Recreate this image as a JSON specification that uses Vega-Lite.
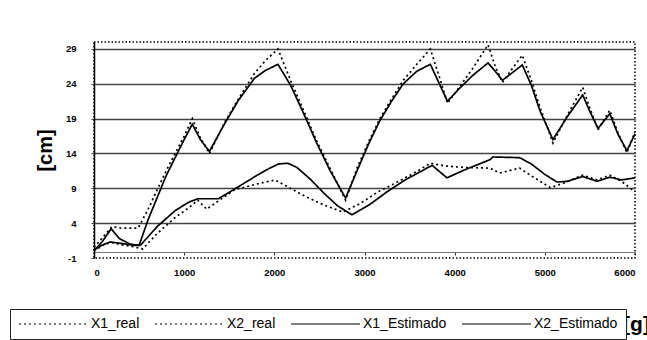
{
  "$schema": "https://vega.github.io/schema/vega-lite/v6.json",
  "width": 541,
  "height": 216,
  "autosize": {"type": "none"},
  "padding": {"left": 94, "top": 42, "right": 12, "bottom": 82},
  "background": "white",
  "config": {
    "view": {"stroke": "black", "strokeDash": [1.5, 2], "strokeWidth": 1.5},
    "font": "Liberation Sans"
  },
  "data": {
    "values": [
      {"s": "X1_real", "x": 0, "y": 0.5}, {"s": "X1_real", "x": 100, "y": 2.0}, {"s": "X1_real", "x": 200, "y": 3.5}, {"s": "X1_real", "x": 300, "y": 3.3}, {"s": "X1_real", "x": 490, "y": 3.3}, {"s": "X1_real", "x": 600, "y": 6.0}, {"s": "X1_real", "x": 800, "y": 11.5}, {"s": "X1_real", "x": 1000, "y": 16.5}, {"s": "X1_real", "x": 1090, "y": 19.0}, {"s": "X1_real", "x": 1180, "y": 16.2}, {"s": "X1_real", "x": 1280, "y": 14.0}, {"s": "X1_real", "x": 1450, "y": 18.5}, {"s": "X1_real", "x": 1600, "y": 21.8}, {"s": "X1_real", "x": 1780, "y": 25.5}, {"s": "X1_real", "x": 1900, "y": 27.3}, {"s": "X1_real", "x": 2040, "y": 29.0}, {"s": "X1_real", "x": 2180, "y": 24.5}, {"s": "X1_real", "x": 2330, "y": 20.0}, {"s": "X1_real", "x": 2470, "y": 15.8}, {"s": "X1_real", "x": 2620, "y": 11.8}, {"s": "X1_real", "x": 2790, "y": 7.3}, {"s": "X1_real", "x": 2920, "y": 12.0}, {"s": "X1_real", "x": 3050, "y": 15.8}, {"s": "X1_real", "x": 3170, "y": 19.0}, {"s": "X1_real", "x": 3300, "y": 21.8}, {"s": "X1_real", "x": 3430, "y": 24.5}, {"s": "X1_real", "x": 3580, "y": 26.8}, {"s": "X1_real", "x": 3730, "y": 29.0}, {"s": "X1_real", "x": 3830, "y": 25.0}, {"s": "X1_real", "x": 3920, "y": 21.2}, {"s": "X1_real", "x": 4050, "y": 23.5}, {"s": "X1_real", "x": 4200, "y": 26.2}, {"s": "X1_real", "x": 4370, "y": 29.6}, {"s": "X1_real", "x": 4450, "y": 26.5}, {"s": "X1_real", "x": 4530, "y": 24.2}, {"s": "X1_real", "x": 4630, "y": 26.0}, {"s": "X1_real", "x": 4750, "y": 28.1}, {"s": "X1_real", "x": 4850, "y": 24.5}, {"s": "X1_real", "x": 4950, "y": 20.5}, {"s": "X1_real", "x": 5090, "y": 15.5}, {"s": "X1_real", "x": 5250, "y": 19.5}, {"s": "X1_real", "x": 5420, "y": 23.5}, {"s": "X1_real", "x": 5500, "y": 20.5}, {"s": "X1_real", "x": 5590, "y": 17.4}, {"s": "X1_real", "x": 5720, "y": 20.2}, {"s": "X1_real", "x": 5810, "y": 17.0}, {"s": "X1_real", "x": 5910, "y": 14.1}, {"s": "X1_real", "x": 6000, "y": 17.1},

      {"s": "X2_real", "x": 0, "y": 0.0}, {"s": "X2_real", "x": 120, "y": 1.0}, {"s": "X2_real", "x": 200, "y": 1.2}, {"s": "X2_real", "x": 300, "y": 0.9}, {"s": "X2_real", "x": 450, "y": 0.6}, {"s": "X2_real", "x": 540, "y": 0.3}, {"s": "X2_real", "x": 700, "y": 2.5}, {"s": "X2_real", "x": 900, "y": 4.8}, {"s": "X2_real", "x": 1050, "y": 6.2}, {"s": "X2_real", "x": 1150, "y": 7.3}, {"s": "X2_real", "x": 1250, "y": 6.0}, {"s": "X2_real", "x": 1380, "y": 7.2}, {"s": "X2_real", "x": 1560, "y": 8.8}, {"s": "X2_real", "x": 1800, "y": 9.6}, {"s": "X2_real", "x": 2007, "y": 10.2}, {"s": "X2_real", "x": 2150, "y": 9.2}, {"s": "X2_real", "x": 2350, "y": 7.8}, {"s": "X2_real", "x": 2550, "y": 6.6}, {"s": "X2_real", "x": 2760, "y": 5.6}, {"s": "X2_real", "x": 2950, "y": 6.8}, {"s": "X2_real", "x": 3150, "y": 8.5}, {"s": "X2_real", "x": 3350, "y": 9.8}, {"s": "X2_real", "x": 3550, "y": 11.2}, {"s": "X2_real", "x": 3730, "y": 12.6}, {"s": "X2_real", "x": 3900, "y": 12.2}, {"s": "X2_real", "x": 4100, "y": 12.0}, {"s": "X2_real", "x": 4390, "y": 11.9}, {"s": "X2_real", "x": 4500, "y": 11.2}, {"s": "X2_real", "x": 4720, "y": 11.9}, {"s": "X2_real", "x": 4850, "y": 10.8}, {"s": "X2_real", "x": 5060, "y": 9.1}, {"s": "X2_real", "x": 5200, "y": 9.7}, {"s": "X2_real", "x": 5420, "y": 10.9}, {"s": "X2_real", "x": 5580, "y": 10.2}, {"s": "X2_real", "x": 5720, "y": 10.9}, {"s": "X2_real", "x": 5850, "y": 10.0}, {"s": "X2_real", "x": 6000, "y": 8.5},

      {"s": "X1_Estimado", "x": 0, "y": 0.0}, {"s": "X1_Estimado", "x": 100, "y": 1.5}, {"s": "X1_Estimado", "x": 190, "y": 3.2}, {"s": "X1_Estimado", "x": 280, "y": 1.8}, {"s": "X1_Estimado", "x": 400, "y": 1.0}, {"s": "X1_Estimado", "x": 500, "y": 0.8}, {"s": "X1_Estimado", "x": 600, "y": 4.5}, {"s": "X1_Estimado", "x": 800, "y": 10.8}, {"s": "X1_Estimado", "x": 1000, "y": 16.0}, {"s": "X1_Estimado", "x": 1090, "y": 18.2}, {"s": "X1_Estimado", "x": 1180, "y": 16.0}, {"s": "X1_Estimado", "x": 1280, "y": 14.3}, {"s": "X1_Estimado", "x": 1450, "y": 18.3}, {"s": "X1_Estimado", "x": 1600, "y": 21.6}, {"s": "X1_Estimado", "x": 1780, "y": 24.8}, {"s": "X1_Estimado", "x": 1900, "y": 25.9}, {"s": "X1_Estimado", "x": 2040, "y": 26.8}, {"s": "X1_Estimado", "x": 2180, "y": 23.8}, {"s": "X1_Estimado", "x": 2330, "y": 19.6}, {"s": "X1_Estimado", "x": 2470, "y": 15.5}, {"s": "X1_Estimado", "x": 2620, "y": 11.5}, {"s": "X1_Estimado", "x": 2790, "y": 7.6}, {"s": "X1_Estimado", "x": 2920, "y": 11.6}, {"s": "X1_Estimado", "x": 3050, "y": 15.5}, {"s": "X1_Estimado", "x": 3170, "y": 18.7}, {"s": "X1_Estimado", "x": 3300, "y": 21.5}, {"s": "X1_Estimado", "x": 3430, "y": 24.0}, {"s": "X1_Estimado", "x": 3580, "y": 25.8}, {"s": "X1_Estimado", "x": 3730, "y": 26.8}, {"s": "X1_Estimado", "x": 3830, "y": 24.0}, {"s": "X1_Estimado", "x": 3920, "y": 21.5}, {"s": "X1_Estimado", "x": 4050, "y": 23.3}, {"s": "X1_Estimado", "x": 4200, "y": 25.2}, {"s": "X1_Estimado", "x": 4370, "y": 27.0}, {"s": "X1_Estimado", "x": 4450, "y": 25.8}, {"s": "X1_Estimado", "x": 4530, "y": 24.5}, {"s": "X1_Estimado", "x": 4630, "y": 25.5}, {"s": "X1_Estimado", "x": 4750, "y": 26.7}, {"s": "X1_Estimado", "x": 4850, "y": 23.8}, {"s": "X1_Estimado", "x": 4950, "y": 20.0}, {"s": "X1_Estimado", "x": 5090, "y": 16.0}, {"s": "X1_Estimado", "x": 5250, "y": 19.3}, {"s": "X1_Estimado", "x": 5420, "y": 22.4}, {"s": "X1_Estimado", "x": 5500, "y": 20.0}, {"s": "X1_Estimado", "x": 5590, "y": 17.6}, {"s": "X1_Estimado", "x": 5720, "y": 19.7}, {"s": "X1_Estimado", "x": 5810, "y": 16.8}, {"s": "X1_Estimado", "x": 5910, "y": 14.4}, {"s": "X1_Estimado", "x": 6000, "y": 16.8},

      {"s": "X2_Estimado", "x": 0, "y": 0.2}, {"s": "X2_Estimado", "x": 100, "y": 0.9}, {"s": "X2_Estimado", "x": 180, "y": 1.3}, {"s": "X2_Estimado", "x": 300, "y": 1.1}, {"s": "X2_Estimado", "x": 450, "y": 0.8}, {"s": "X2_Estimado", "x": 520, "y": 0.9}, {"s": "X2_Estimado", "x": 700, "y": 3.5}, {"s": "X2_Estimado", "x": 900, "y": 5.8}, {"s": "X2_Estimado", "x": 1050, "y": 7.0}, {"s": "X2_Estimado", "x": 1150, "y": 7.5}, {"s": "X2_Estimado", "x": 1380, "y": 7.5}, {"s": "X2_Estimado", "x": 1560, "y": 8.9}, {"s": "X2_Estimado", "x": 1800, "y": 10.8}, {"s": "X2_Estimado", "x": 1950, "y": 11.9}, {"s": "X2_Estimado", "x": 2050, "y": 12.5}, {"s": "X2_Estimado", "x": 2150, "y": 12.6}, {"s": "X2_Estimado", "x": 2250, "y": 12.0}, {"s": "X2_Estimado", "x": 2400, "y": 10.3}, {"s": "X2_Estimado", "x": 2550, "y": 8.3}, {"s": "X2_Estimado", "x": 2700, "y": 6.5}, {"s": "X2_Estimado", "x": 2860, "y": 5.2}, {"s": "X2_Estimado", "x": 3050, "y": 6.6}, {"s": "X2_Estimado", "x": 3250, "y": 8.5}, {"s": "X2_Estimado", "x": 3450, "y": 10.2}, {"s": "X2_Estimado", "x": 3650, "y": 11.6}, {"s": "X2_Estimado", "x": 3750, "y": 12.3}, {"s": "X2_Estimado", "x": 3915, "y": 10.5}, {"s": "X2_Estimado", "x": 4100, "y": 11.6}, {"s": "X2_Estimado", "x": 4390, "y": 13.1}, {"s": "X2_Estimado", "x": 4425, "y": 13.5}, {"s": "X2_Estimado", "x": 4720, "y": 13.4}, {"s": "X2_Estimado", "x": 4850, "y": 12.5}, {"s": "X2_Estimado", "x": 5000, "y": 11.0}, {"s": "X2_Estimado", "x": 5135, "y": 9.9}, {"s": "X2_Estimado", "x": 5250, "y": 10.0}, {"s": "X2_Estimado", "x": 5420, "y": 10.7}, {"s": "X2_Estimado", "x": 5580, "y": 10.0}, {"s": "X2_Estimado", "x": 5720, "y": 10.6}, {"s": "X2_Estimado", "x": 5850, "y": 10.2}, {"s": "X2_Estimado", "x": 6000, "y": 10.5}
    ]
  },
  "mark": {"type": "line", "color": "black", "strokeWidth": 1.7},
  "encoding": {
    "x": {
      "field": "x", "type": "quantitative",
      "scale": {"domain": [0, 6000], "nice": false, "zero": false},
      "axis": {
        "values": [0, 1000, 2000, 3000, 4000, 5000, 6000],
        "labelExpr": "'' + datum.value",
        "grid": false, "offset": -6,
        "domainColor": "#777", "domainWidth": 1,
        "tickColor": "#333", "tickSize": 3, "labelPadding": 12,
        "labelFont": "Liberation Sans", "labelFontWeight": "bold", "labelFontSize": 9.5, "labelColor": "black",
        "title": "[g]", "titleFont": "Liberation Sans", "titleFontWeight": "bold", "titleFontSize": 21,
        "titleColor": "black", "titleX": 542, "titleY": 78, "titleAlign": "center", "titleBaseline": "alphabetic"
      }
    },
    "y": {
      "field": "y", "type": "quantitative",
      "scale": {"domain": [-1, 30], "nice": false, "zero": false},
      "axis": {
        "values": [-1, 4, 9, 14, 19, 24, 29],
        "labelExpr": "'' + datum.value",
        "grid": true,
        "gridColor": {"condition": {"test": "datum.value == -1", "value": "transparent"}, "value": "#444"},
        "gridWidth": 1.4,
        "domainColor": "black", "domainWidth": 1.5,
        "tickColor": "#444", "tickSize": 3, "labelPadding": 15,
        "labelFont": "Liberation Sans", "labelFontWeight": "bold", "labelFontSize": 9.5, "labelColor": "black",
        "title": "[cm]", "titleFont": "Liberation Sans", "titleFontWeight": "bold", "titleFontSize": 20,
        "titleColor": "black", "titleX": -49, "titleY": 108, "titleAngle": -90, "titleBaseline": "middle", "titleAlign": "center"
      }
    },
    "strokeDash": {
      "field": "s", "type": "nominal",
      "scale": {"domain": ["X1_real", "X2_real", "X1_Estimado", "X2_Estimado"], "range": [[2, 3], [2, 3], [1, 0], [1, 0]]},
      "legend": {
        "title": null, "orient": "none", "legendX": -84, "legendY": 267,
        "direction": "horizontal", "symbolType": "stroke", "symbolSize": 4761,
        "symbolStrokeColor": "black", "symbolStrokeWidth": 1.2, "clipHeight": 14,
        "labelFont": "Liberation Sans", "labelFontSize": 14, "labelColor": "black", "labelOffset": 2,
        "columnPadding": 14, "padding": 8, "fillColor": "white", "strokeColor": "#222"
      }
    }
  }
}
